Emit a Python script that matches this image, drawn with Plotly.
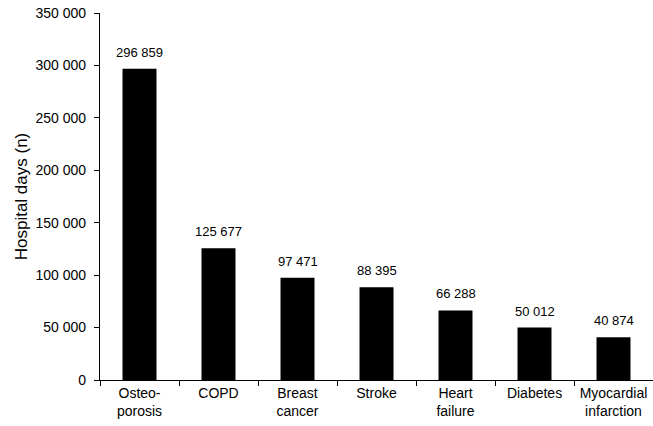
import plotly.graph_objects as go

categories = ["Osteo-<br>porosis", "COPD", "Breast<br>cancer", "Stroke",
              "Heart<br>failure", "Diabetes", "Myocardial<br>infarction"]
hospital_days = [296859, 125677, 97471, 88395, 66288, 50012, 40874]
y_ticks = [0, 50000, 100000, 150000, 200000, 250000, 300000, 350000]

font_family = "Liberation Sans, Arial, sans-serif"

fig = go.Figure()
fig.add_trace(go.Bar(
    x=categories,
    y=hospital_days,
    marker=dict(color="black", line=dict(width=0)),
))

# value labels above the bars, a little higher than plotly's default pad
for cat, val in zip(categories, hospital_days):
    fig.add_annotation(
        x=cat, y=val, text=f"{val:,}".replace(",", " "),
        showarrow=False, yanchor="bottom", yshift=7,
        font=dict(size=13, color="black", family=font_family),
    )

fig.update_layout(
    width=653,
    height=426,
    margin=dict(l=100, r=0, t=13, b=46),
    plot_bgcolor="white",
    paper_bgcolor="white",
    separators=". ",
    bargap=0.57,
    showlegend=False,
    font=dict(family=font_family, color="black", size=14),
)
fig.update_xaxes(
    type="category",
    range=[-0.5, 6.5],
    showline=True, linecolor="black", linewidth=1.2,
    ticks="outside", tickson="boundaries", ticklen=5, tickcolor="black",
    tickfont=dict(size=14),
    showgrid=False,
)
fig.update_yaxes(
    range=[0, 350000],
    tickvals=y_ticks,
    tickformat=",",
    showline=True, linecolor="black", linewidth=1.2,
    ticks="outside", ticklen=5, tickcolor="black",
    tickfont=dict(size=14), ticklabelstandoff=5,
    showgrid=False, zeroline=False,
    title=dict(text="Hospital days (n)", font=dict(size=17), standoff=3),
)

# drop the page's default body margin so the figure fills the window
fig.write_html("out.html", config={"displayModeBar": False},
               post_script="document.body.style.margin='0';")
